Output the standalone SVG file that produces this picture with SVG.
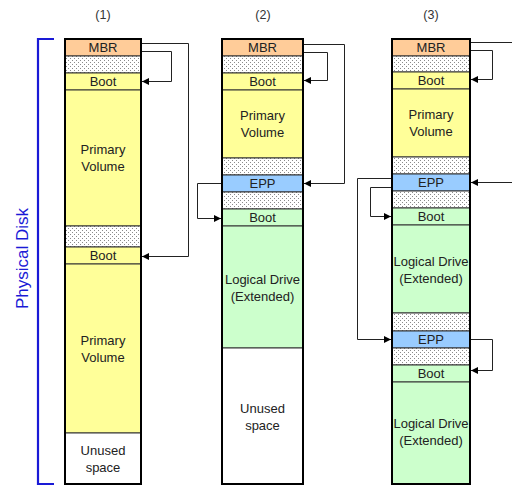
<svg xmlns="http://www.w3.org/2000/svg" width="512" height="485" viewBox="0 0 512 485">
<defs>
<pattern id="dots" width="4" height="4" patternUnits="userSpaceOnUse">
<rect width="4" height="4" fill="#ffffff"/>
<rect x="0" y="0" width="1" height="1" fill="#8a8a8a"/>
<rect x="2" y="2" width="1" height="1" fill="#8a8a8a"/>
</pattern>
<marker id="ah" markerWidth="8" markerHeight="8" refX="7" refY="4" orient="auto" markerUnits="userSpaceOnUse">
<path d="M0,0.5 L7,4 L0,7.5 Z" fill="#000"/>
</marker>
</defs>
<style>
.seg{stroke:#333;stroke-width:1}
.mbr{fill:#FFCC99}
.yel{fill:#FFFF99}
.grn{fill:#CCFFCC}
.blu{fill:#99CCFF}
.wht{fill:#FFFFFF}
.dot{fill:url(#dots)}
.frame{fill:none;stroke:#000;stroke-width:2}
text{font-family:"Liberation Sans",Arial,sans-serif;font-size:13px;fill:#222;text-anchor:middle}
.ttl{font-size:12.5px;fill:#333}
.conn{fill:none;stroke:#222;stroke-width:1;marker-end:url(#ah)}
.line{fill:none;stroke:#222;stroke-width:1}
</style>

<text class="ttl" x="103" y="19">(1)</text>
<text class="ttl" x="263" y="19">(2)</text>
<text class="ttl" x="431" y="19">(3)</text>

<g id="physical-disk">
<path d="M54,39 H38 V484 H54" fill="none" stroke="#1a1ad6" stroke-width="2.2"/>
<text x="0" y="0" transform="translate(28,258.5) rotate(-90)" style="font-size:17px;fill:#1a1ad6">Physical Disk</text>
</g>

<g id="col1">
<g id="c1-mbr"><rect class="seg mbr" x="65" y="39" width="76" height="17"/><text x="103" y="52">MBR</text></g>
<g id="c1-gap1"><rect class="seg dot" x="65" y="56" width="76" height="17"/></g>
<g id="c1-boot1"><rect class="seg yel" x="65" y="73" width="76" height="17"/><text x="103" y="86">Boot</text></g>
<g id="c1-pv1"><rect class="seg yel" x="65" y="90" width="76" height="136"/><text x="103" y="153.5">Primary</text><text x="103" y="170.5">Volume</text></g>
<g id="c1-gap2"><rect class="seg dot" x="65" y="226" width="76" height="21"/></g>
<g id="c1-boot2"><rect class="seg yel" x="65" y="247" width="76" height="17"/><text x="103" y="260">Boot</text></g>
<g id="c1-pv2"><rect class="seg yel" x="65" y="264" width="76" height="169"/><text x="103" y="344.5">Primary</text><text x="103" y="361.5">Volume</text></g>
<g id="c1-unused"><rect class="seg wht" x="65" y="433" width="76" height="51"/><text x="103" y="455">Unused</text><text x="103" y="472">space</text></g>
<rect class="frame" x="65" y="39" width="76" height="445"/>
</g>

<g id="col2">
<g id="c2-mbr"><rect class="seg mbr" x="222" y="39" width="81" height="17"/><text x="262.5" y="52">MBR</text></g>
<g id="c2-gap1"><rect class="seg dot" x="222" y="56" width="81" height="17"/></g>
<g id="c2-boot1"><rect class="seg yel" x="222" y="73" width="81" height="17"/><text x="262.5" y="86">Boot</text></g>
<g id="c2-pv"><rect class="seg yel" x="222" y="90" width="81" height="68"/><text x="262.5" y="119.5">Primary</text><text x="262.5" y="136.5">Volume</text></g>
<g id="c2-gap2"><rect class="seg dot" x="222" y="158" width="81" height="17"/></g>
<g id="c2-epp"><rect class="seg blu" x="222" y="175" width="81" height="17"/><text x="262.5" y="188">EPP</text></g>
<g id="c2-gap3"><rect class="seg dot" x="222" y="192" width="81" height="17"/></g>
<g id="c2-boot2"><rect class="seg grn" x="222" y="209" width="81" height="17"/><text x="262.5" y="222">Boot</text></g>
<g id="c2-ld"><rect class="seg grn" x="222" y="226" width="81" height="122"/><text x="262.5" y="283.5">Logical Drive</text><text x="262.5" y="300.5">(Extended)</text></g>
<g id="c2-unused"><rect class="seg wht" x="222" y="348" width="81" height="136"/><text x="262.5" y="412.5">Unused</text><text x="262.5" y="429.5">space</text></g>
<rect class="frame" x="222" y="39" width="81" height="445"/>
</g>

<g id="col3">
<g id="c3-mbr"><rect class="seg mbr" x="392" y="39" width="78" height="17"/><text x="431" y="52">MBR</text></g>
<g id="c3-gap1"><rect class="seg dot" x="392" y="56" width="78" height="16"/></g>
<g id="c3-boot1"><rect class="seg yel" x="392" y="72" width="78" height="17"/><text x="431" y="85">Boot</text></g>
<g id="c3-pv"><rect class="seg yel" x="392" y="89" width="78" height="68"/><text x="431" y="118.5">Primary</text><text x="431" y="135.5">Volume</text></g>
<g id="c3-gap2"><rect class="seg dot" x="392" y="157" width="78" height="17"/></g>
<g id="c3-epp1"><rect class="seg blu" x="392" y="174" width="78" height="17"/><text x="431" y="187">EPP</text></g>
<g id="c3-gap3"><rect class="seg dot" x="392" y="191" width="78" height="17"/></g>
<g id="c3-boot2"><rect class="seg grn" x="392" y="208" width="78" height="17"/><text x="431" y="221">Boot</text></g>
<g id="c3-ld1"><rect class="seg grn" x="392" y="225" width="78" height="88"/><text x="431" y="266">Logical Drive</text><text x="431" y="283">(Extended)</text></g>
<g id="c3-gap4"><rect class="seg dot" x="392" y="313" width="78" height="18"/></g>
<g id="c3-epp2"><rect class="seg blu" x="392" y="331" width="78" height="17"/><text x="431" y="344">EPP</text></g>
<g id="c3-gap5"><rect class="seg dot" x="392" y="348" width="78" height="17"/></g>
<g id="c3-boot3"><rect class="seg grn" x="392" y="365" width="78" height="17"/><text x="431" y="378">Boot</text></g>
<g id="c3-ld2"><rect class="seg grn" x="392" y="382" width="78" height="102"/><text x="431" y="427.5">Logical Drive</text><text x="431" y="444.5">(Extended)</text></g>
<rect class="frame" x="392" y="39" width="78" height="445"/>
</g>

<g id="connectors">
<path class="conn" d="M142,43.5 H188.5 V256.5 H142"/>
<path class="conn" d="M142,51.5 H171.5 V81.5 H142"/>
<path class="conn" d="M304,44.5 H344.5 V183.5 H304"/>
<path class="conn" d="M304,52.5 H327.5 V80.5 H304"/>
<path class="conn" d="M221,183.5 H197.5 V218.5 H221"/>
<path class="line" d="M471,42.5 H512"/>
<path class="conn" d="M471,50.5 H492.5 V79.5 H471"/>
<path class="conn" d="M512,182.5 H471"/>
<path class="conn" d="M391,178.5 H357.5 V339.5 H391"/>
<path class="conn" d="M391,187.5 H370.5 V216.5 H391"/>
<path class="conn" d="M471,339.5 H492.5 V370.5 H471"/>
</g>
</svg>
